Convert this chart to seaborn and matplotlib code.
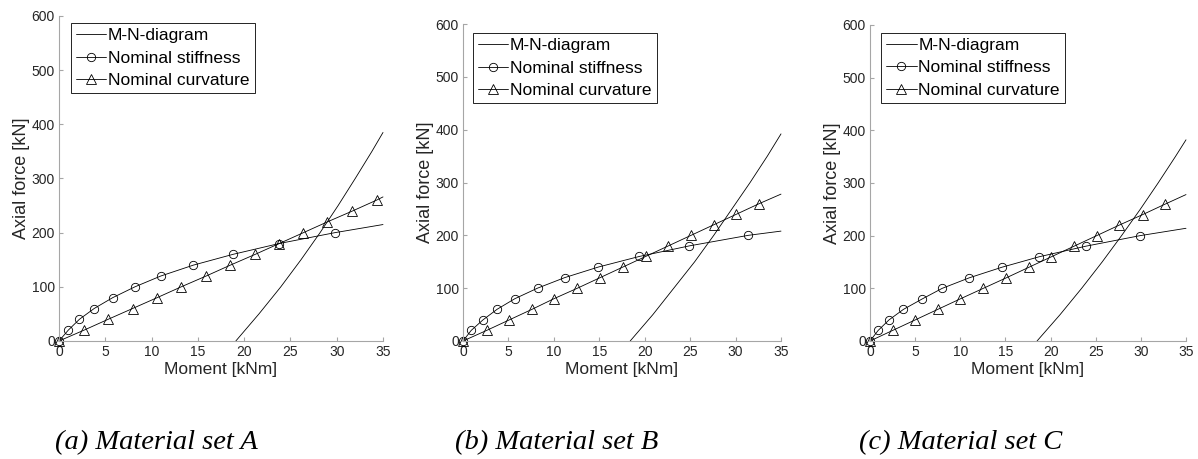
import matplotlib
matplotlib.use("Agg")
import matplotlib.pyplot as plt
import seaborn as sns
from matplotlib.lines import Line2D

# ---------------- data ----------------
stiff_N_A = [0, 20, 40, 60, 80, 100, 120, 140, 160, 180, 200, 215]
stiff_M_A = [0, 1.0, 2.2, 3.8, 5.8, 8.2, 11.0, 14.5, 18.8, 23.8, 29.8, 35.0]
curv_N_A = [0, 20, 40, 60, 80, 100, 120, 140, 160, 180, 200, 220, 240, 260, 266]
curv_M_A = [0, 2.7, 5.3, 7.95, 10.6, 13.2, 15.9, 18.5, 21.2, 23.8, 26.4, 29.0, 31.7, 34.3, 35.0]
mn_N_A = [0, 50, 100, 150, 200, 250, 300, 350, 385]
mn_M_A = [19.1, 21.6, 23.96, 26.14, 28.2, 30.15, 32.0, 33.8, 35.0]

stiff_N_B = [0, 20, 40, 60, 80, 100, 120, 140, 160, 180, 200, 208]
stiff_M_B = [0, 0.9, 2.2, 3.75, 5.7, 8.2, 11.2, 14.9, 19.4, 24.9, 31.4, 35.0]
curv_N_B = [0, 20, 40, 60, 80, 100, 120, 140, 160, 180, 200, 220, 240, 260, 278]
curv_M_B = [0, 2.6, 5.1, 7.6, 10.0, 12.6, 15.1, 17.6, 20.1, 22.6, 25.1, 27.6, 30.1, 32.6, 35.0]
mn_N_B = [0, 50, 100, 150, 200, 250, 300, 350, 392]
mn_M_B = [18.4, 20.9, 23.2, 25.5, 27.6, 29.6, 31.6, 33.5, 35.0]

stiff_N_C = [0, 20, 40, 60, 80, 100, 120, 140, 160, 180, 200, 214]
stiff_M_C = [0, 0.9, 2.1, 3.7, 5.8, 8.0, 11.0, 14.6, 18.75, 23.9, 29.9, 35.0]
curv_N_C = [0, 20, 40, 60, 80, 100, 120, 140, 160, 180, 200, 220, 240, 260, 278]
curv_M_C = [0, 2.5, 5.0, 7.5, 10.0, 12.55, 15.1, 17.6, 20.1, 22.6, 25.1, 27.6, 30.2, 32.7, 35.0]
mn_N_C = [0, 50, 100, 150, 200, 250, 300, 350, 382]
mn_M_C = [18.5, 21.05, 23.44, 25.71, 27.86, 29.93, 31.91, 33.82, 35.0]

series_labels = ["M-N-diagram", "Nominal stiffness", "Nominal curvature"]
captions = ["(a) Material set A", "(b) Material set B", "(c) Material set C"]
x_ticks = [0, 5, 10, 15, 20, 25, 30, 35]
y_ticks = [0, 100, 200, 300, 400, 500, 600]
x_label = "Moment [kNm]"
y_label = "Axial force [kN]"

panels = [
    (mn_M_A, mn_N_A, stiff_M_A, stiff_N_A, curv_M_A, curv_N_A),
    (mn_M_B, mn_N_B, stiff_M_B, stiff_N_B, curv_M_B, curv_N_B),
    (mn_M_C, mn_N_C, stiff_M_C, stiff_N_C, curv_M_C, curv_N_C),
]

# ---------------- style ----------------
sns.set_style("white")
plt.rcParams["font.family"] = ["Liberation Sans", "DejaVu Sans"]
TXT = "#262626"
AX = "#a6a6a6"

W, H = 1198, 459
fig = plt.figure(figsize=(W / 100, H / 100), dpi=100)

# axes boxes in pixels: left, top, right, bottom
boxes = [(59, 16, 383, 341), (463, 24, 781, 341), (870, 25, 1186, 341)]
legend_anchor = [(0.036, 0.979), (0.030, 0.972), (0.035, 0.976)]
caption_x = [156, 557, 961]

lw = 0.6
ms = 6
for i, (box, data) in enumerate(zip(boxes, panels)):
    l, t, r, b = box
    ax = fig.add_axes([l / W, 1 - b / H, (r - l) / W, (b - t) / H])
    mnM, mnN, sM, sN, cM, cN = data

    sns.lineplot(x=mnM, y=mnN, ax=ax, color="k", lw=lw, estimator=None,
                 sort=False, clip_on=False)
    sns.lineplot(x=sM, y=sN, ax=ax, color="k", lw=lw, estimator=None,
                 sort=False, marker="o", markevery=list(range(len(sM) - 1)),
                 markersize=ms, mfc="none", mec="k", mew=0.6, clip_on=False)
    sns.lineplot(x=cM, y=cN, ax=ax, color="k", lw=lw, estimator=None,
                 sort=False, marker="^", markevery=list(range(len(cM) - 1)),
                 markersize=ms + 0.5, mfc="none", mec="k", mew=0.6, clip_on=False)

    ax.set_xlim(0, 35)
    ax.set_ylim(0, 600)
    ax.set_xticks(x_ticks)
    ax.set_yticks(y_ticks)
    ax.set_facecolor("white")
    for side in ["top", "right"]:
        ax.spines[side].set_visible(False)
    for side in ["left", "bottom"]:
        ax.spines[side].set_color(AX)
        ax.spines[side].set_linewidth(0.8)
    ax.tick_params(direction="in", length=3, width=0.8, color=AX,
                   labelsize=10, labelcolor=TXT, pad=3,
                   bottom=True, left=True)
    ax.set_xlabel(x_label, fontsize=12.5, color=TXT, labelpad=2)
    ax.set_ylabel(y_label, fontsize=13, color=TXT, labelpad=1)

    handles = [
        Line2D([], [], color="k", lw=lw),
        Line2D([], [], color="k", lw=lw, marker="o", ms=ms, mfc="none", mec="k", mew=0.6),
        Line2D([], [], color="k", lw=lw, marker="^", ms=ms + 0.5, mfc="none", mec="k", mew=0.6),
    ]
    leg = ax.legend(handles, series_labels, loc="upper left",
                    bbox_to_anchor=legend_anchor[i], borderaxespad=0,
                    fontsize=12.5, frameon=True, fancybox=False, framealpha=1,
                    edgecolor="k", handlelength=1.75, handletextpad=0.1,
                    labelspacing=0.42, borderpad=0.3, numpoints=1)
    leg.get_frame().set_linewidth(0.6)
    for txt in leg.get_texts():
        txt.set_color("k")

    fig.text(caption_x[i] / W, 1 - 443 / H, captions[i], ha="center", va="center",
             fontsize=20.5, style="italic", family=["Liberation Serif", "DejaVu Serif"],
             color="k")

fig.savefig("out.png", dpi=100)
